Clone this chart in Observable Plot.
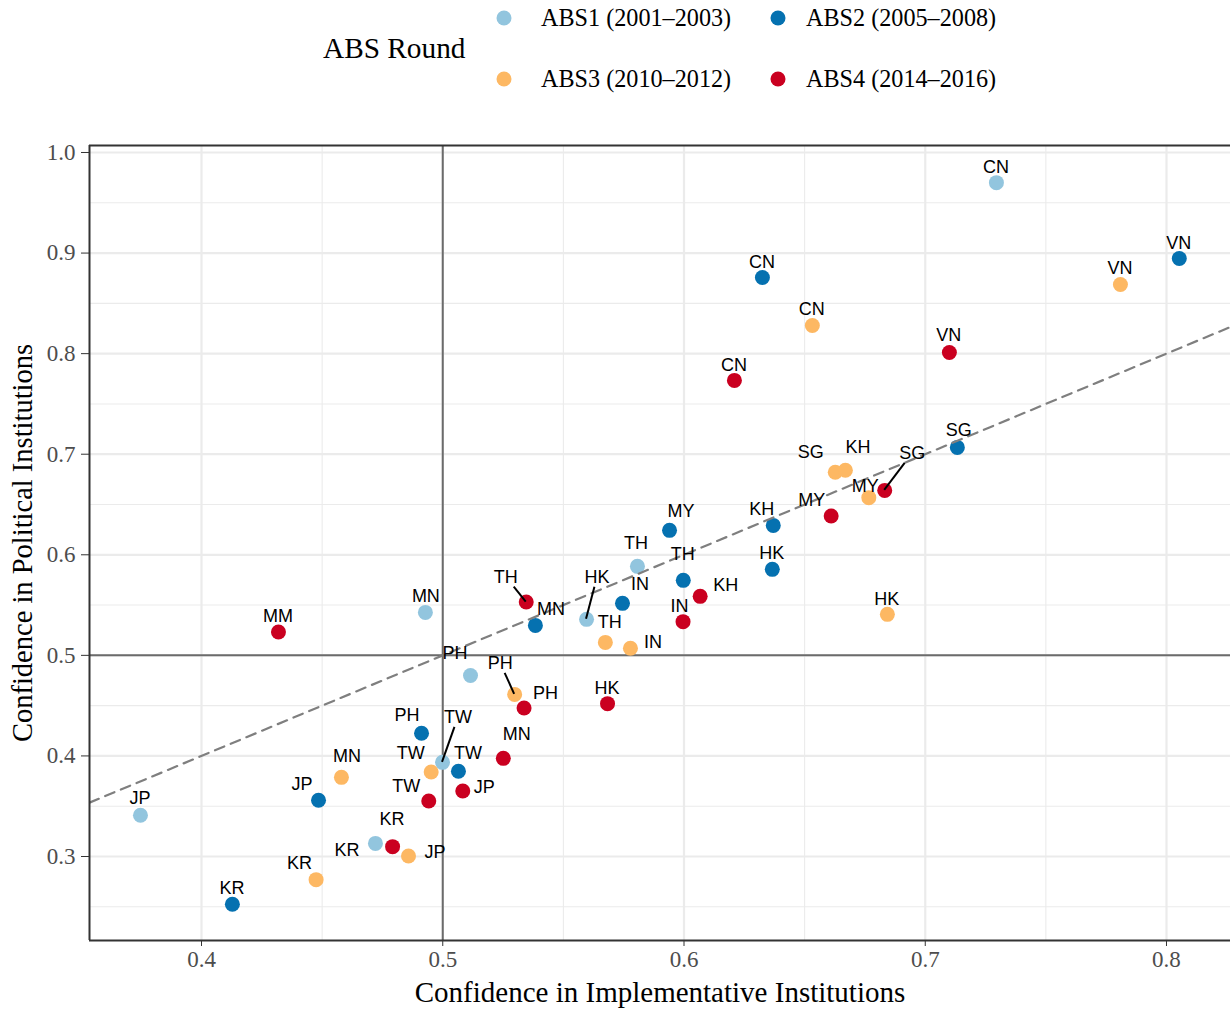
<!DOCTYPE html>
<html>
<head>
<meta charset="utf-8">
<script src="https://cdn.jsdelivr.net/npm/d3@7"></script>
<script src="https://cdn.jsdelivr.net/npm/@observablehq/plot@0.6"></script>
<style>
  html, body { margin: 0; padding: 0; background: #fff; }
  #wrap { position: relative; width: 1230px; height: 1009px; overflow: hidden; }
  #legend { position: relative; width: 1230px; height: 120px; font-family: "Liberation Serif", "DejaVu Serif", serif; color: #000; }
  #legend .title { position: absolute; left: 323px; top: 48px; font-size: 29.3px; transform: translateY(-50%); white-space: nowrap; }
  #legend .item { position: absolute; font-size: 24.2px; white-space: nowrap; transform: translateY(-50%); }
  #legend .key { position: absolute; width: 15px; height: 15px; border-radius: 50%; transform: translate(-50%, -50%); }
  #chart svg { display: block; }
  #chart svg text { fill: #4d4d4d; }
  #chart svg g[aria-label="labels"] text, #chart svg g[aria-label="text"] text { fill: #000; }
</style>
</head>
<body>
<div id="wrap">
  <div id="legend"></div>
  <div id="chart"></div>
</div>
<script>
// Asian Barometer Survey rounds
const rounds = ["ABS1 (2001–2003)", "ABS2 (2005–2008)", "ABS3 (2010–2012)", "ABS4 (2014–2016)"];
const roundColors = ["#92C5DE", "#0571B0", "#FDB863", "#CA0020"];

// Country codes per round
const countries1 = ["CN", "JP", "MN", "PH", "TH", "HK", "TW", "KR"];
const countries2 = ["CN", "VN", "SG", "MY", "KH", "HK", "TH", "IN", "MN", "PH", "TW", "JP", "KR"];
const countries3 = ["VN", "CN", "SG", "KH", "MY", "HK", "TH", "IN", "PH", "TW", "MN", "JP", "KR"];
const countries4 = ["VN", "CN", "SG", "MY", "KH", "IN", "TH", "MM", "PH", "HK", "MN", "JP", "TW", "KR"];

// Confidence in implementative institutions (x)
const implementative1 = [0.7295, 0.3747, 0.4928, 0.5115, 0.5807, 0.5596, 0.4999, 0.4721];
const implementative2 = [0.6325, 0.8053, 0.7133, 0.5940, 0.6370, 0.6366, 0.5997, 0.5745, 0.5384, 0.4912, 0.5065, 0.4485, 0.4128];
const implementative3 = [0.7809, 0.6532, 0.6627, 0.6669, 0.6766, 0.6843, 0.5674, 0.5778, 0.5298, 0.4952, 0.4580, 0.4858, 0.4475];
const implementative4 = [0.7100, 0.6209, 0.6832, 0.6610, 0.6067, 0.5996, 0.5346, 0.4319, 0.5337, 0.5683, 0.5251, 0.5083, 0.4942, 0.4792];

// Confidence in political institutions (y)
const political1 = [0.970, 0.341, 0.5427, 0.480, 0.5885, 0.5358, 0.3936, 0.313];
const political2 = [0.8757, 0.8946, 0.7068, 0.6243, 0.6292, 0.5855, 0.5746, 0.5517, 0.5298, 0.4225, 0.3847, 0.3559, 0.2525];
const political3 = [0.8688, 0.828, 0.682, 0.684, 0.6568, 0.5408, 0.5129, 0.507, 0.4612, 0.384, 0.3787, 0.3005, 0.277];
const political4 = [0.8012, 0.7734, 0.664, 0.6385, 0.5587, 0.5335, 0.553, 0.5232, 0.4476, 0.452, 0.3976, 0.3651, 0.3552, 0.3098];

// Axis ticks and grid
const xTicks = [0.4, 0.5, 0.6, 0.7, 0.8];
const xMinor = [0.45, 0.55, 0.65, 0.75];
const yTicks = [0.3, 0.4, 0.5, 0.6, 0.7, 0.8, 0.9, 1.0];
const yMinor = [0.25, 0.35, 0.45, 0.55, 0.65, 0.75, 0.85, 0.95];
const xDomain = [0.35357, 0.82653];
const yDomain = [0.21648, 1.00696];

// Label placement (pixel offsets from each point; third entry = draw a leader segment)
const labelNudge = {
  "0|CN": [0, -16], "0|JP": [0, -17], "0|MN": [1, -16], "0|PH": [-15, -22], "0|TH": [-1, -23],
  "0|HK": [11, -42, 1], "0|TW": [16, -45, 1], "0|KR": [-28, 7],
  "1|CN": [0, -15], "1|VN": [0, -15], "1|SG": [2, -17], "1|MY": [12, -19], "1|KH": [-11, -16],
  "1|HK": [0, -16], "1|TH": [0, -26], "1|IN": [18, -19], "1|MN": [16, -16], "1|PH": [-14, -18],
  "1|TW": [10, -18], "1|JP": [-16, -16], "1|KR": [0, -16],
  "2|VN": [0, -16], "2|CN": [0, -16], "2|SG": [-24, -20], "2|KH": [13, -23], "2|MY": [-3, -12],
  "2|HK": [0, -15], "2|TH": [5, -20], "2|IN": [23, -6], "2|PH": [-14, -31, 1], "2|TW": [-20, -19],
  "2|MN": [6, -21], "2|JP": [27, -4], "2|KR": [-16, -17],
  "3|VN": [0, -17], "3|CN": [0, -15], "3|SG": [28, -37, 1], "3|MY": [-19, -16], "3|KH": [26, -11],
  "3|IN": [-3, -16], "3|TH": [-20, -25, 1], "3|MM": [0, -16], "3|PH": [22, -15], "3|HK": [0, -16],
  "3|MN": [14, -24], "3|JP": [22, -4], "3|TW": [-22, -15], "3|KR": [0, -28]
};

// Assemble a tidy table for the marks
const seriesCountries = [countries1, countries2, countries3, countries4];
const seriesX = [implementative1, implementative2, implementative3, implementative4];
const seriesY = [political1, political2, political3, political4];
const points = [];
seriesCountries.forEach((cs, r) => {
  cs.forEach((c, i) => {
    const n = labelNudge[r + "|" + c] || [0, -16];
    points.push({round: rounds[r], country: c, x: seriesX[r][i], y: seriesY[r][i], dx: n[0], dy: n[1], seg: !!n[2]});
  });
});

// Legend
const legend = document.getElementById("legend");
legend.innerHTML = `<div class="title">ABS Round</div>`;
const legendPos = [[504, 541, 18], [778, 806, 18], [504, 541, 79], [778, 806, 79]];
rounds.forEach((r, i) => {
  const [kx, tx, y] = legendPos[i];
  legend.insertAdjacentHTML("beforeend",
    `<div class="key" style="left:${kx}px;top:${y}px;background:${roundColors[i]}"></div>` +
    `<div class="item" style="left:${tx}px;top:${y}px">${r}</div>`);
});

// Repelled point labels with leader segments, placed through the plot's scales
function pointLabels(data) {
  return (index, scales) => {
    const g = d3.create("svg:g").attr("aria-label", "labels");
    const fs = 18;
    for (const d of data) {
      const px = scales.x(d.x), py = scales.y(d.y);
      const cx = px + d.dx, cy = py + d.dy;
      if (d.seg) {
        const hw = d.country.length * fs * 0.36 + 2, hh = fs * 0.5 + 1;
        const vx = px - cx, vy = py - cy;
        const t = Math.min(vx ? hw / Math.abs(vx) : Infinity, vy ? hh / Math.abs(vy) : Infinity);
        if (t < 1) {
          g.append("line")
            .attr("x1", px).attr("y1", py)
            .attr("x2", cx + t * vx).attr("y2", cy + t * vy)
            .attr("stroke", "#000").attr("stroke-width", 2);
        }
      }
    }
    for (const d of data) {
      g.append("text")
        .attr("x", scales.x(d.x) + d.dx)
        .attr("y", scales.y(d.y) + d.dy)
        .attr("dy", "0.36em")
        .attr("text-anchor", "middle")
        .attr("font-family", "'Liberation Sans', Arial, sans-serif")
        .attr("font-size", fs)
        .attr("fill", "#000")
        .text(d.country);
    }
    return g.node();
  };
}

const gridColor = "#EBEBEB";
const chart = Plot.plot({
  width: 1230,
  height: 889,
  marginTop: 25,
  marginBottom: 69,
  marginLeft: 89,
  marginRight: 0,
  style: {fontFamily: "'Liberation Serif', 'DejaVu Serif', serif", fontSize: "23px", color: "#333", background: "#fff", overflow: "visible"},
  x: {domain: xDomain, ticks: xTicks, tickFormat: ".1f", tickSize: 6, tickPadding: 4, label: null},
  y: {domain: yDomain, ticks: yTicks, tickFormat: ".1f", tickSize: 8, tickPadding: 6, label: null},
  color: {domain: rounds, range: roundColors},
  marks: [
    Plot.ruleY(yMinor, {stroke: gridColor, strokeWidth: 1.1}),
    Plot.ruleX(xMinor, {stroke: gridColor, strokeWidth: 1.1}),
    Plot.ruleY(yTicks, {stroke: gridColor, strokeWidth: 2.2}),
    Plot.ruleX(xTicks, {stroke: gridColor, strokeWidth: 2.2}),
    Plot.ruleX([0.5], {stroke: "#6b6b6b", strokeWidth: 2}),
    Plot.ruleY([0.5], {stroke: "#6b6b6b", strokeWidth: 2}),
    Plot.dot(points, {x: "x", y: "y", fill: "round", r: 7.5}),
    // 45-degree reference line (equal confidence)
    Plot.line([xDomain[0], xDomain[1]], {x: d => d, y: d => d, stroke: "#7f7f7f", strokeWidth: 2.2, strokeDasharray: "10,7", clip: true}),
    pointLabels(points),
    // panel border
    Plot.ruleX([xDomain[0]], {stroke: "#333", strokeWidth: 2}),
    Plot.ruleY([yDomain[0]], {stroke: "#333", strokeWidth: 2}),
    Plot.ruleY([yDomain[1]], {stroke: "#333", strokeWidth: 2}),
    // axis titles
    Plot.text(["Confidence in Implementative Institutions"], {frameAnchor: "bottom", dy: 52, fontSize: 29, fill: "#000", textAnchor: "middle", lineAnchor: "middle"}),
    Plot.text(["Confidence in Political Institutions"], {frameAnchor: "left", dx: -67, rotate: -90, fontSize: 28.5, fill: "#000", textAnchor: "middle", lineAnchor: "middle"})
  ]
});
document.getElementById("chart").appendChild(chart);
</script>
</body>
</html>
